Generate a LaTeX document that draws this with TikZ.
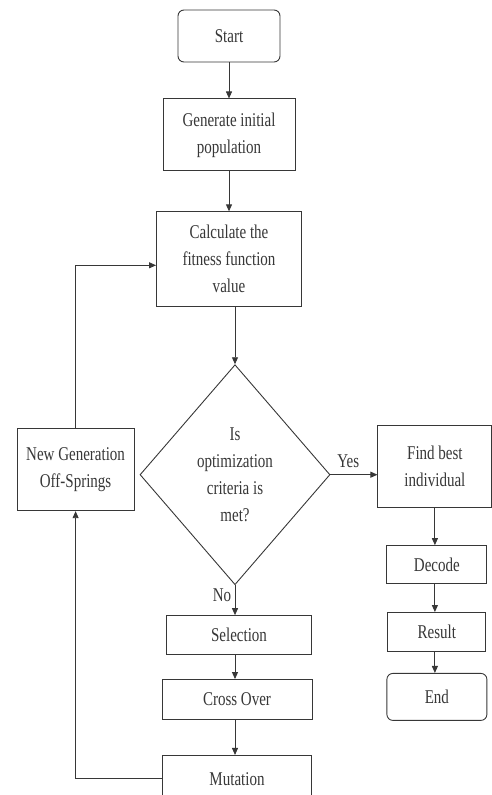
\documentclass[tikz,border=0pt]{standalone}
\usepackage{fontspec}
\setmainfont{Liberation Serif}[FakeStretch=0.77]
\usepackage{tikz}
\usetikzlibrary{arrows.meta, positioning, shapes.geometric}
\definecolor{scangray}{RGB}{55,55,55}

\begin{document}
\begin{tikzpicture}[
    x=1pt, y=1pt, >={Triangle[length=7pt,width=6pt]}, node distance=30pt,
    block/.style={rectangle, draw=scangray, line width=0.9pt, text=scangray,
                  align=center, inner sep=2pt,
                  font=\fontsize{19.5}{27}\selectfont},
    term/.style={block, rounded corners=6pt},
    test/.style={diamond, draw=scangray, line width=0.9pt, text=scangray,
                 minimum width=190pt, minimum height=220pt, aspect=0.86,
                 inner sep=0pt, align=center,
                 font=\fontsize{19.5}{27}\selectfont},
    lbl/.style={text=scangray, font=\fontsize{19.5}{27}\selectfont},
    arr/.style={->, draw=scangray, line width=0.9pt},
]
\useasboundingbox (0,0) rectangle (492,-795);

% main column
\node[term, minimum width=102pt, minimum height=52pt] (start) at (229,-36) {Start};
\node[block, minimum width=132pt, minimum height=72pt, below=36pt of start] (init) {Generate initial\\population};
\node[block, minimum width=145pt, minimum height=95pt, below=40pt of init] (fitness) {Calculate the\\fitness function\\value};
\node[test, below=57pt of fitness, xshift=6pt] (crit) {Is\\optimization\\criteria is\\met?};
\node[block, minimum width=145pt, minimum height=39pt, below=30pt of crit, xshift=4pt] (select) {Selection};
\node[block, minimum width=150pt, minimum height=40pt, below=24pt of select, xshift=-2pt] (cross) {Cross Over};
\node[block, minimum width=149pt, minimum height=47pt, below=35pt of cross] (mutate) {Mutation};

% side boxes
\node[block, minimum width=117pt, minimum height=82pt, left=5pt of crit, yshift=5pt] (newgen) {New Generation\\Off-Springs};
\node[block, minimum width=114pt, minimum height=82pt, right=47pt of crit, yshift=8pt] (best) {Find best\\individual};
\node[block, minimum width=100pt, minimum height=38pt, below=37pt of best, xshift=2pt] (decode) {Decode};
\node[block, minimum width=98pt, minimum height=39pt, below=28pt of decode] (result) {Result};
\node[term, minimum width=100pt, minimum height=47pt, below=21pt of result] (stop) {End};

\draw[arr] (start) -- (init);
\draw[arr] (init) -- (fitness);
\draw[arr] (fitness.south -| crit.north) -- (crit.north);
\draw[arr] (crit.east) -- node[above, pos=0.38, yshift=3pt, lbl]{Yes} (crit.east -| best.west);
\draw[arr] (crit.south) -- node[left, pos=0.35, lbl]{No} (select.north -| crit.south);
\draw[arr] (select.south -| crit.south) -- (cross.north -| crit.south);
\draw[arr] (cross.south -| crit.south) -- (mutate.north -| crit.south);
\draw[arr] (mutate.west) -| (newgen.south);
\draw[arr] (newgen.north) |- ([yshift=-6pt]fitness.west);
\draw[arr] (best.south) -- (best.south |- decode.north);
\draw[arr] (decode.south -| best.south) -- (result.north -| best.south);
\draw[arr] (result.south -| best.south) -- (stop.north -| best.south);
\end{tikzpicture}
\end{document}
